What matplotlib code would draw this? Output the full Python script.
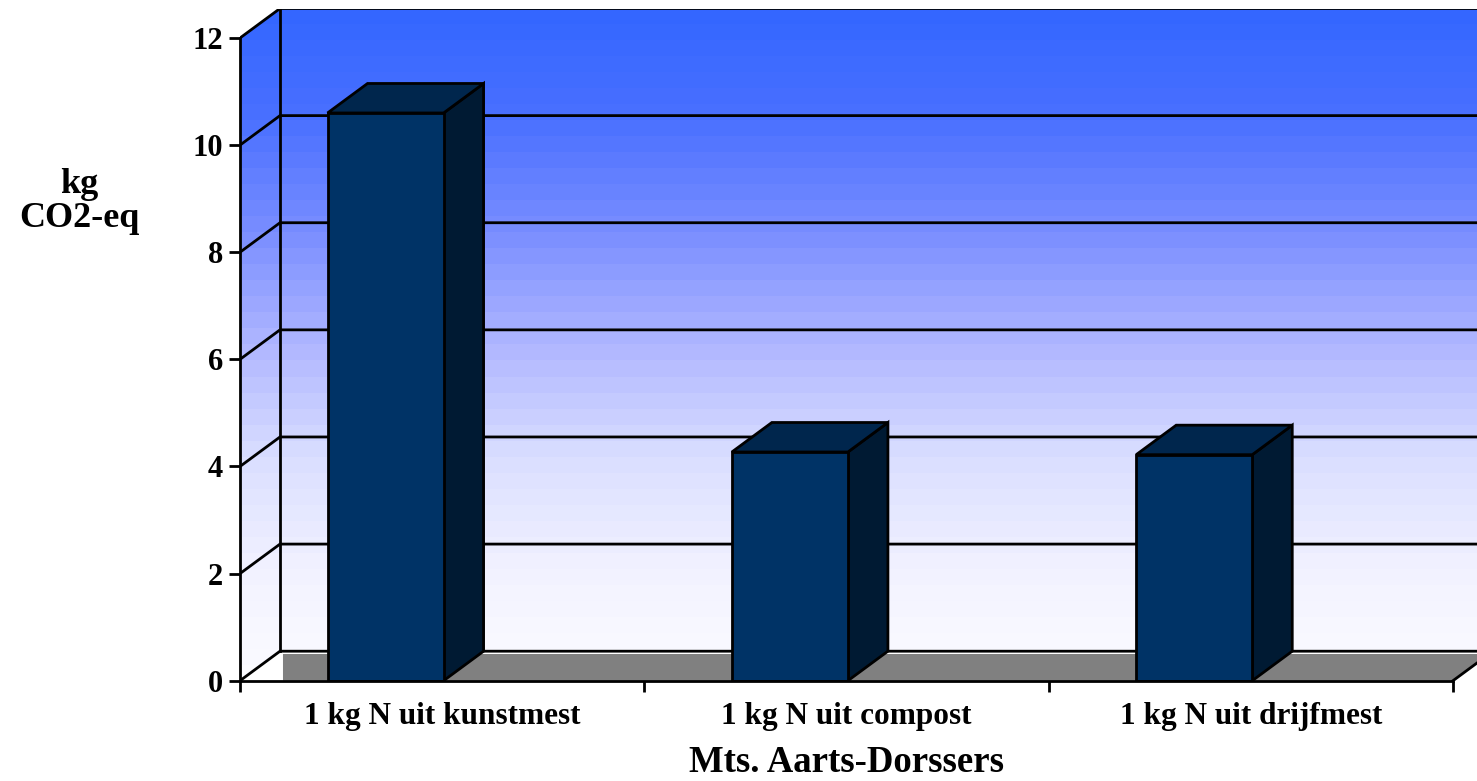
import numpy as np
import matplotlib
matplotlib.use("Agg")
import matplotlib.pyplot as plt
from matplotlib.patches import Polygon

# Data
categories = ["1 kg N uit kunstmest", "1 kg N uit compost", "1 kg N uit drijfmest"]
values = [10.6, 4.27, 4.22]
y_ticks = [0, 2, 4, 6, 8, 10, 12]
x_title = "Mts. Aarts-Dorssers"
y_title = ["kg", "CO2-eq"]

W, H = 1477, 781
fig = plt.figure(figsize=(W / 100, H / 100), dpi=100)
fig.patch.set_facecolor("white")

plt.rcParams["font.family"] = ["Liberation Serif", "DejaVu Serif"]
plt.rcParams["font.weight"] = "bold"

# Front plane geometry (pixels): x 0..3 -> 240..1453, y 0..12 -> 680.7..38
x0_px, x1_px = 240, 1453
y0_px, y1_px = 680.7, 38.0
sx = (x1_px - x0_px) / 3.0
sy = (y0_px - y1_px) / 12.0

# 3D depth offset (data units)
DX = 40 / sx
DY = 29.5 / sy
XR = 3.1            # back wall runs off the right edge
YT = 12 + DY        # top of back wall

ax = fig.add_axes([x0_px / W, 1 - y0_px / H, XR * sx / W, YT * sy / H])
ax.set_xlim(0, XR)
ax.set_ylim(0, YT)
ax.set_facecolor("none")

# Gradient walls (side wall + back wall): banded blue-to-white fill
wall = Polygon([(0, 0), (0, 12), (DX, YT), (XR, YT), (XR, DY), (DX, DY)],
               closed=True, transform=ax.transData, facecolor="none", edgecolor="none")
ax.add_patch(wall)
stop_pos = np.array([0.0, 1 / 6, 2 / 6, 3 / 6, 4 / 6, 5 / 6, 1.0])   # from top to bottom
stop_r = np.array([51, 74, 122, 175, 218, 242, 252]) / 255
stop_g = np.array([102, 112, 142, 182, 222, 242, 252]) / 255
stop_b = np.array([255, 255, 255, 255, 255, 255, 255]) / 255
steps = 42
t = (np.arange(steps) + 0.5) / steps
cols = np.stack([np.interp(t, stop_pos, stop_r),
                 np.interp(t, stop_pos, stop_g),
                 np.interp(t, stop_pos, stop_b)], axis=1)
grad = cols[:, None, :]
im = ax.imshow(grad, extent=[0, XR, 0, YT], origin="upper", aspect="auto",
               interpolation="nearest", zorder=0)
im.set_clip_path(wall)
ax.set_xlim(0, XR)
ax.set_ylim(0, YT)

# Floor
fy = 0.4985
fx = 0.1063
floor = Polygon([(fx, 0), (3, 0), (3 + DX * fy / DY, fy), (fx, fy)],
                closed=True, facecolor="#808080", edgecolor="none", zorder=1)
ax.add_patch(floor)

# Gridlines on side and back wall
lw = 2.0
for v in y_ticks:
    ax.plot([0, DX, XR], [v, v + DY, v + DY], color="black", lw=lw, zorder=2,
            solid_capstyle="butt", solid_joinstyle="miter")
ax.plot([DX, DX], [DY, YT], color="black", lw=lw, zorder=2)
ax.plot([3, 3 + DX], [0, DY], color="black", lw=lw, zorder=2)

# Bars: front face via bar(), top and side faces as polygons
front_c = "#003366"
top_col = "#00264D"
side_col = "#001A33"
bar_w = 0.287
bar_x = [i + 0.36 for i in range(len(values))]
ax.bar(bar_x, values, width=bar_w, color=front_c, edgecolor="black", linewidth=lw, zorder=4)
for xc, v in zip(bar_x, values):
    l, r = xc - bar_w / 2, xc + bar_w / 2
    side = Polygon([(r, 0), (r + DX, DY), (r + DX, v + DY), (r, v)], closed=True,
                   facecolor=side_col, edgecolor="black", lw=lw, zorder=3,
                   joinstyle="miter")
    top = Polygon([(l, v), (r, v), (r + DX, v + DY), (l + DX, v + DY)], closed=True,
                  facecolor=top_col, edgecolor="black", lw=lw, zorder=3,
                  joinstyle="miter")
    ax.add_patch(side)
    ax.add_patch(top)

# Axes styling: front axis lines limited to the front plane
for s in ["top", "right"]:
    ax.spines[s].set_visible(False)
ax.spines["left"].set_bounds(0, 12)
ax.spines["bottom"].set_bounds(0, 3)
for s in ["left", "bottom"]:
    ax.spines[s].set_linewidth(lw)
    ax.spines[s].set_zorder(5)
    ax.spines[s].set_capstyle("projecting")
ax.set_yticks(y_ticks)
ax.set_yticklabels([str(v) for v in y_ticks])
ax.set_xticks([0, 1, 2, 3])
ax.set_xticklabels([])
ax.set_xticks([0.5, 1.5, 2.5], minor=True)
ax.set_xticklabels(categories, minor=True)
ax.tick_params(axis="y", direction="out", length=8, width=lw, pad=4,
               labelsize=22, labelcolor="black")
ax.tick_params(axis="x", which="major", direction="out", length=8, width=lw)
ax.tick_params(axis="x", which="minor", length=0, pad=15, labelsize=22.5)
for lab in ax.get_yticklabels() + ax.get_xticklabels(minor=True):
    lab.set_fontweight("bold")

fig.text(846.5 / W, 1 - 772 / H, x_title, ha="center", va="baseline",
         fontsize=26.5, fontweight="bold")
fig.text(79 / W, 1 - 193 / H, y_title[0], ha="center", va="baseline",
         fontsize=26, fontweight="bold")
fig.text(79 / W, 1 - 227 / H, y_title[1], ha="center", va="baseline",
         fontsize=26, fontweight="bold")

fig.savefig("out.png", dpi=100, facecolor="white")
